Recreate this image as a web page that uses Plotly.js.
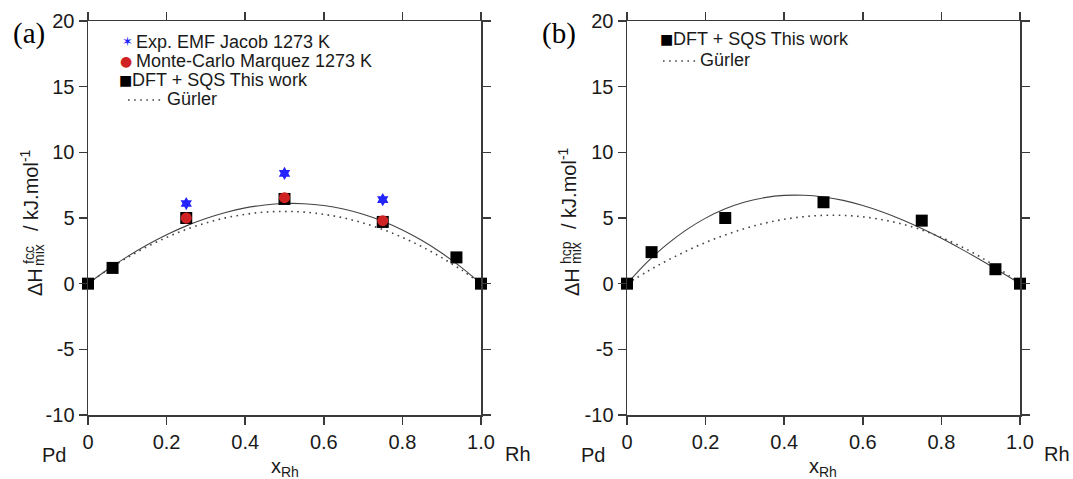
<!DOCTYPE html>
<html>
<head>
<meta charset="utf-8">
<script src="https://cdn.plot.ly/plotly-3.0.1.min.js"></script>
<style>html,body{margin:0;padding:0;background:#fff;}#plot{width:1073px;height:479px;}</style>
</head>
<body>
<div id="plot"></div>
<script>
// ---- data ----
const xDft = [0, 0.0625, 0.25, 0.5, 0.75, 0.9375, 1];
const dftFcc = [0, 1.2, 5.0, 6.45, 4.7, 2.0, 0];
const dftHcp = [0, 2.4, 5.0, 6.2, 4.8, 1.1, 0];
const xRef = [0.25, 0.5, 0.75];
const expJacob = [6.1, 8.4, 6.4];
const mcMarquez = [5.0, 6.55, 4.8];
const xCurve = [0, 0.05, 0.1, 0.15, 0.2, 0.25, 0.3, 0.35, 0.4, 0.45, 0.5, 0.55, 0.6, 0.65, 0.7, 0.75, 0.8, 0.85, 0.9, 0.95, 1];
const fitFcc = [0, 1.08, 2.06, 2.94, 3.72, 4.40, 4.96, 5.42, 5.77, 5.99, 6.10, 6.09, 5.95, 5.68, 5.28, 4.75, 4.09, 3.28, 2.33, 1.24, 0];
const gurlerFcc = [0, 1.05, 1.98, 2.81, 3.52, 4.13, 4.62, 5.01, 5.28, 5.45, 5.50, 5.45, 5.28, 5.01, 4.62, 4.13, 3.52, 2.81, 1.98, 1.05, 0];
const fitHcp = [0, 1.60, 2.95, 4.08, 4.99, 5.70, 6.22, 6.55, 6.72, 6.73, 6.60, 6.34, 5.95, 5.46, 4.87, 4.20, 3.46, 2.65, 1.80, 0.91, 0];
const gurlerHcp = [0, 0.90, 1.73, 2.47, 3.14, 3.71, 4.20, 4.60, 4.90, 5.10, 5.20, 5.20, 5.09, 4.87, 4.54, 4.09, 3.52, 2.83, 2.02, 1.07, 0];
const xTickVals = [0, 0.2, 0.4, 0.6, 0.8, 1.0];
const xTickText = ['0', '0.2', '0.4', '0.6', '0.8', '1.0'];
const yTickVals = [-10, -5, 0, 5, 10, 15, 20];
const yTickText = ['-10', '-5', '0', '5', '10', '15', '20'];
const legendA = ['Exp. EMF Jacob 1273 K', 'Monte-Carlo Marquez 1273 K', 'DFT + SQS This work', 'Gürler'];
const legendB = ['DFT + SQS This work', 'Gürler'];

// ---- styling ----
const W = 1073, H = 479;
const FONT = 'Liberation Sans, Arial, sans-serif';
const AX = '#3a3a3a';
const TXT = '#1a1a1a';
const px = v => v / W;
const py = v => 1 - v / H;

const solid = {color: '#444', width: 1.1, shape: 'spline'};
const dotted = {color: '#444', width: 1.6, dash: '1.6px,4.5px', shape: 'spline'};
const sq = {symbol: 'square', size: 12, color: '#000'};

const traces = [
  {x: xCurve, y: fitFcc, xaxis: 'x', yaxis: 'y', mode: 'lines', line: solid},
  {x: xCurve, y: gurlerFcc, xaxis: 'x', yaxis: 'y', mode: 'lines', line: dotted},
  {x: xDft, y: dftFcc, xaxis: 'x', yaxis: 'y', mode: 'markers', marker: sq, cliponaxis: false},
  {x: xRef, y: mcMarquez, xaxis: 'x', yaxis: 'y', mode: 'markers', marker: {symbol: 'circle', size: 11, color: '#cf2222'}, cliponaxis: false},
  {x: xRef, y: expJacob, xaxis: 'x', yaxis: 'y', mode: 'markers', marker: {symbol: 'hexagram', size: 10, color: '#2424ff'}, cliponaxis: false},
  {x: xCurve, y: fitHcp, xaxis: 'x2', yaxis: 'y2', mode: 'lines', line: solid},
  {x: xCurve, y: gurlerHcp, xaxis: 'x2', yaxis: 'y2', mode: 'lines', line: dotted},
  {x: xDft, y: dftHcp, xaxis: 'x2', yaxis: 'y2', mode: 'markers', marker: sq, cliponaxis: false}
];

function xax(d0, d1, anchor) {
  return {domain: [px(d0), px(d1)], range: [0, 1], anchor: anchor, showgrid: false, zeroline: false,
    showline: true, linecolor: AX, linewidth: 1.5, mirror: 'ticks', ticks: 'outside', ticklen: 8,
    tickwidth: 1.5, tickcolor: AX, tickvals: xTickVals, ticktext: xTickText,
    tickfont: {family: FONT, size: 20, color: TXT}, fixedrange: true};
}
function yax(anchor) {
  return {domain: [py(415), py(21)], range: [-10, 20], anchor: anchor, showgrid: false, zeroline: false,
    showline: true, linecolor: AX, linewidth: 1.5, mirror: 'ticks', ticks: 'outside', ticklen: 8,
    tickwidth: 1.5, tickcolor: AX, tickvals: yTickVals, ticktext: yTickText,
    tickfont: {family: FONT, size: 20, color: TXT}, fixedrange: true};
}

function ann(text, x, y, o) {
  o = o || {};
  return Object.assign({text: text, xref: 'paper', yref: 'paper', x: px(x), y: py(y), showarrow: false,
    xanchor: 'center', yanchor: 'middle', borderpad: 0, font: {family: FONT, size: 20, color: TXT}}, o);
}
const LF = {family: FONT, size: 18, color: TXT};
const annotations = [
  // panel letters
  ann('(a)', 29, 33, {font: {family: 'Liberation Serif, Times New Roman, serif', size: 29, color: '#000'}}),
  ann('(b)', 559, 33, {font: {family: 'Liberation Serif, Times New Roman, serif', size: 29, color: '#000'}}),
  // axis end labels
  ann('Pd', 54, 455), ann('Rh', 518, 454), ann('x<sub>Rh</sub>', 285, 467),
  ann('Pd', 593, 455), ann('Rh', 1057, 454), ann('x<sub>Rh</sub>', 823, 467),
  // y titles (left)
  ann('ΔH', 35, 282, {textangle: -90}),
  ann('fcc', 29, 255, {textangle: -90, font: {family: FONT, size: 14, color: TXT}}),
  ann('mix', 39, 255, {textangle: -90, font: {family: FONT, size: 14, color: TXT}}),
  ann('/ kJ.mol<sup>-1</sup>', 30, 190, {textangle: -90}),
  // y titles (right)
  ann('ΔH', 572, 282, {textangle: -90}),
  ann('hcp', 566, 253, {textangle: -90, font: {family: FONT, size: 14, color: TXT}}),
  ann('mix', 576, 253, {textangle: -90, font: {family: FONT, size: 14, color: TXT}}),
  ann('/ kJ.mol<sup>-1</sup>', 567, 188, {textangle: -90}),
  // legend (a)
  ann('✶', 127, 42, {font: {family: 'DejaVu Sans', size: 13, color: '#2424ff'}}),
  ann(legendA[0], 135, 42, {xanchor: 'left', font: LF}),
  ann('●', 126, 61, {font: {family: 'DejaVu Sans', size: 14, color: '#cf2222'}}),
  ann(legendA[1], 135, 61, {xanchor: 'left', font: LF}),
  ann('■', 126, 80, {font: {family: 'DejaVu Sans', size: 14, color: '#000'}}),
  ann(legendA[2], 131, 80, {xanchor: 'left', font: LF}),
  ann(legendA[3], 166, 99, {xanchor: 'left', font: LF}),
  // legend (b)
  ann('■', 666, 39, {font: {family: 'DejaVu Sans', size: 14, color: '#000'}}),
  ann(legendB[0], 672, 39, {xanchor: 'left', font: LF}),
  ann(legendB[1], 699, 60, {xanchor: 'left', font: LF})
];
const shapes = [
  {type: 'line', xref: 'paper', yref: 'paper', x0: px(128), x1: px(163), y0: py(100), y1: py(100), line: {color: '#444', width: 1.6, dash: '1.6px,4.5px'}},
  {type: 'line', xref: 'paper', yref: 'paper', x0: px(663), x1: px(697), y0: py(61), y1: py(61), line: {color: '#444', width: 1.6, dash: '1.6px,4.5px'}}
];

const layout = {
  width: W, height: H, margin: {l: 0, r: 0, t: 0, b: 0, pad: 0},
  paper_bgcolor: '#fff', plot_bgcolor: '#fff', showlegend: false,
  font: {family: FONT, color: TXT},
  xaxis: xax(88, 481, 'y'), yaxis: yax('x'),
  xaxis2: xax(627, 1020, 'y2'), yaxis2: yax('x2'),
  annotations: annotations, shapes: shapes
};
Plotly.newPlot('plot', traces, layout, {staticPlot: true, displayModeBar: false});
</script>
</body>
</html>
